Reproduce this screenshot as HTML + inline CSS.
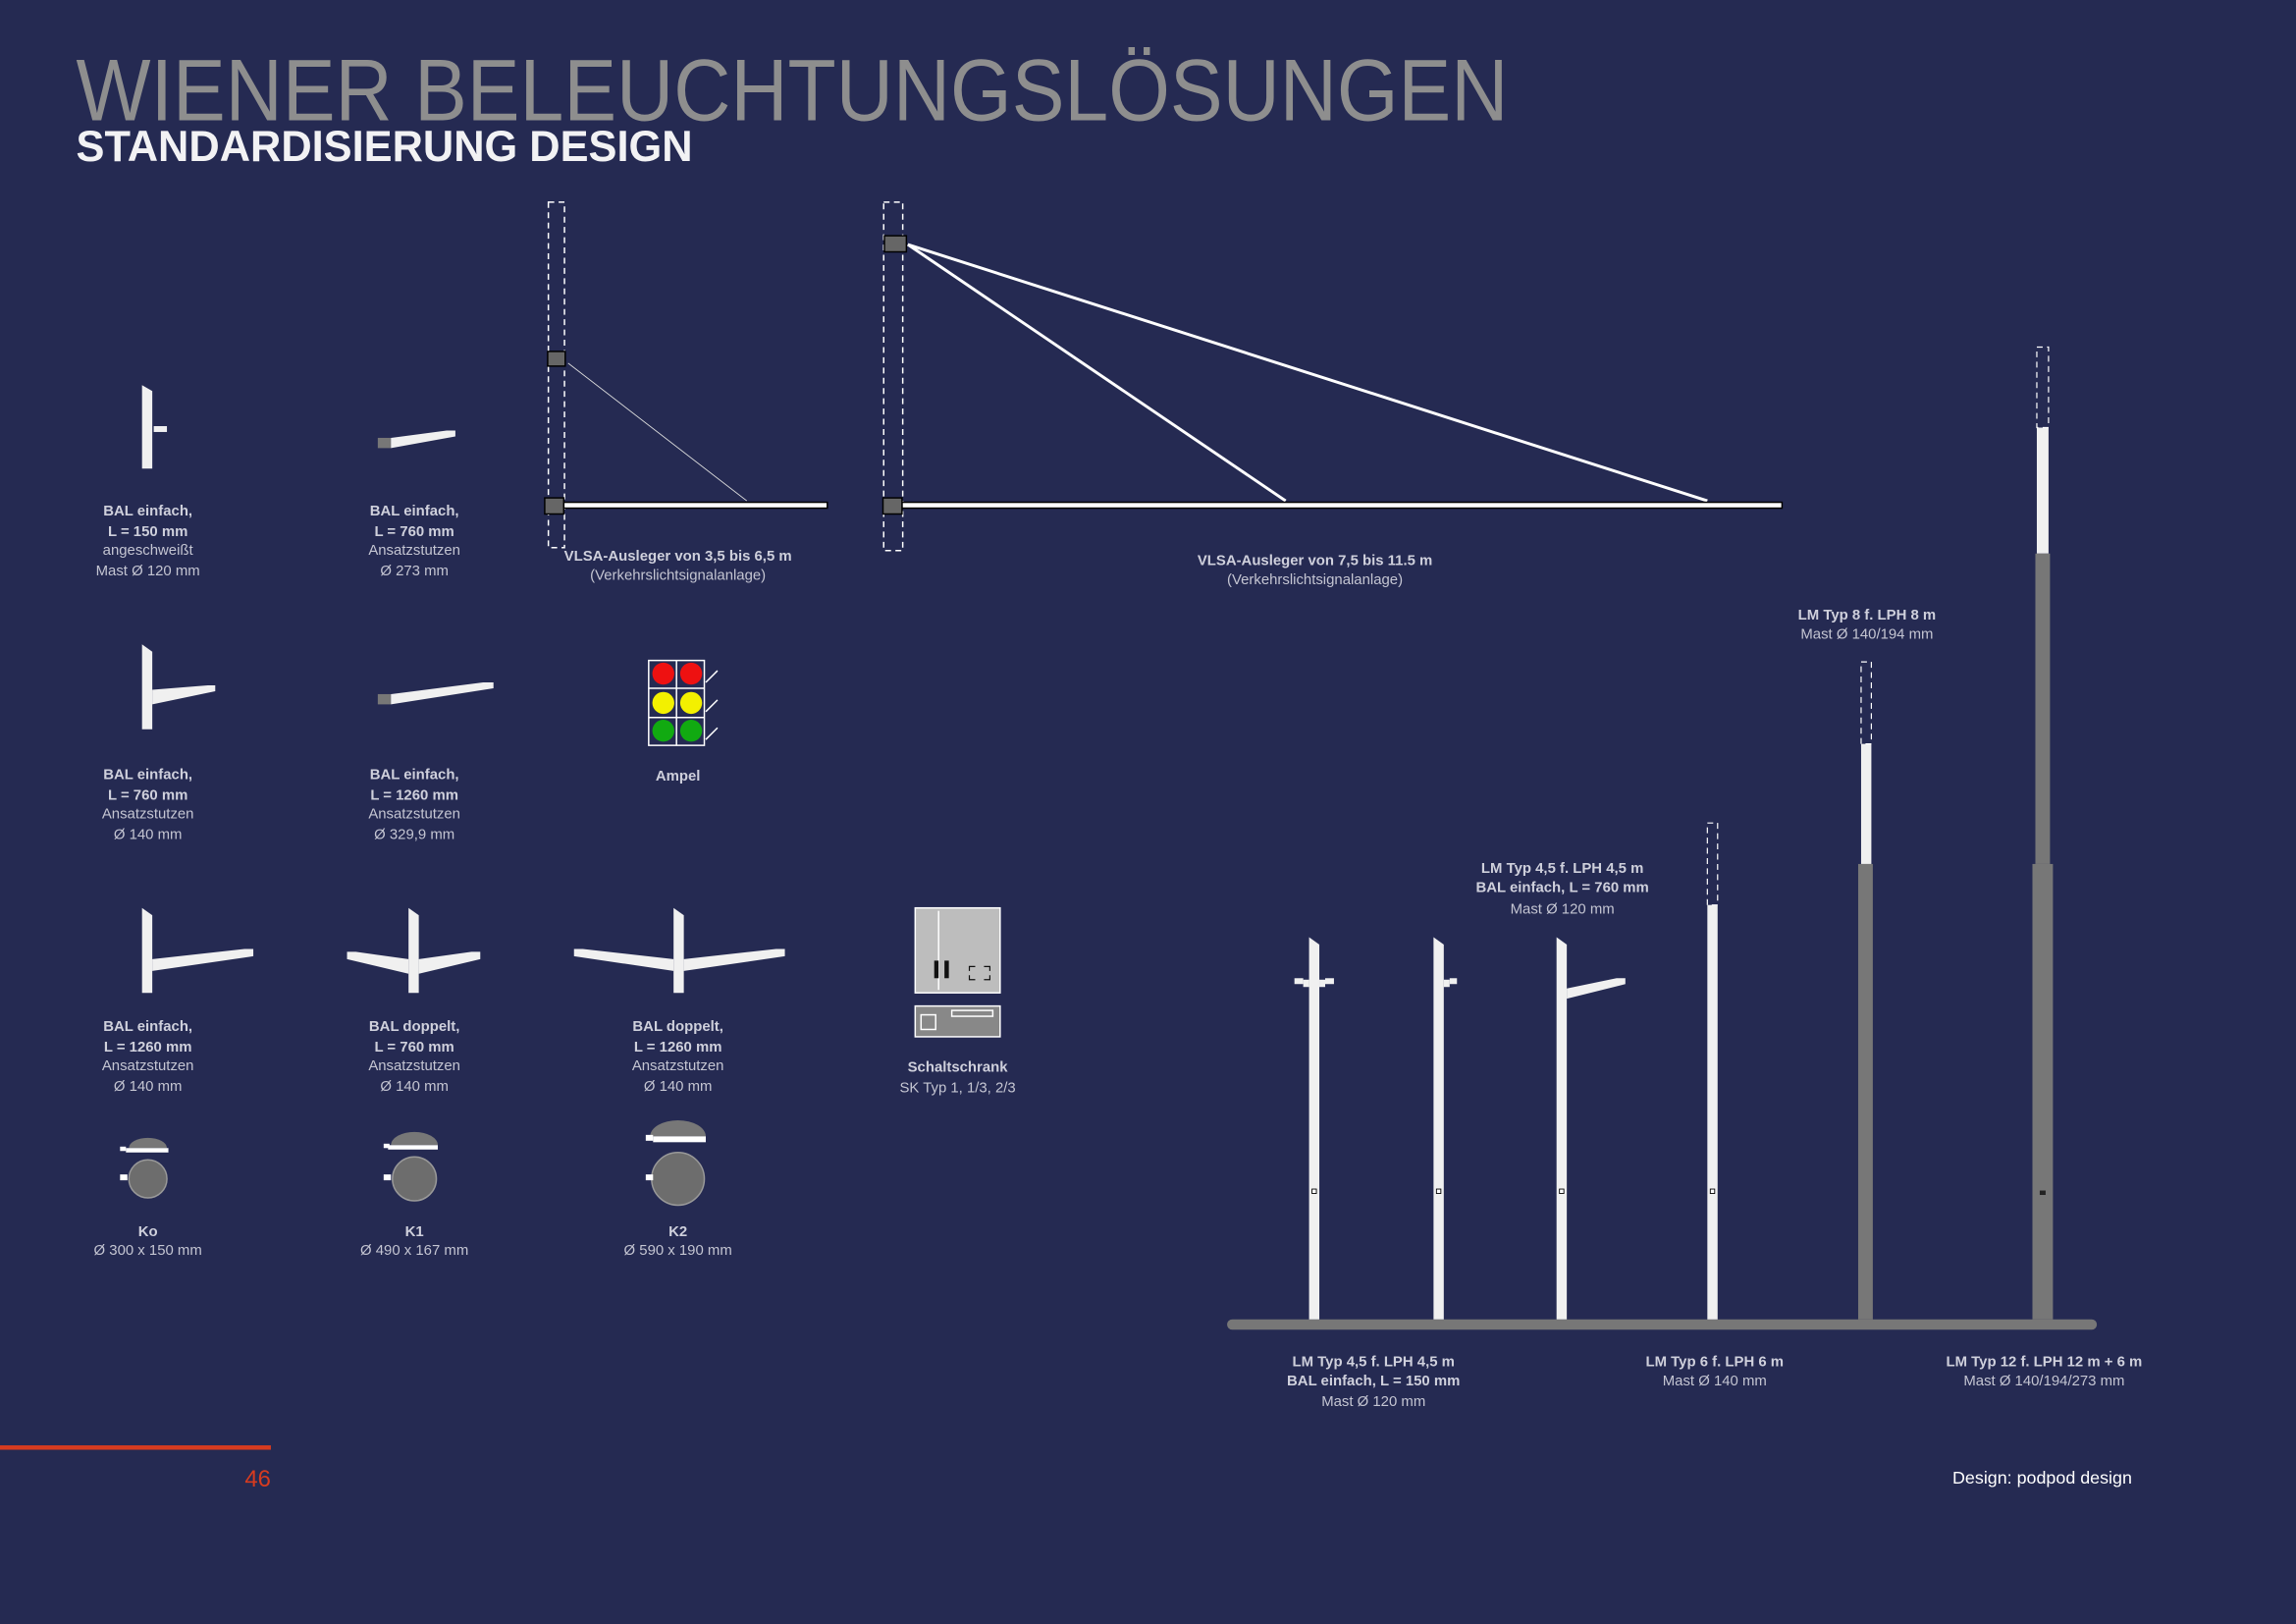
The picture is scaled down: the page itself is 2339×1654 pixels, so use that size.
<!DOCTYPE html>
<html><head><meta charset="utf-8"><style>
html,body{margin:0;padding:0;background:#252a52;}
svg{display:block;}
text{font-family:"Liberation Sans",sans-serif;}
.b{font-weight:bold;fill:#cfd0dc;font-size:10px;}
.r{fill:#c4c5d2;font-size:10px;}
</style></head><body>
<svg width="2339" height="1654" viewBox="0 0 1568 1109" preserveAspectRatio="none" xmlns="http://www.w3.org/2000/svg">
<rect width="1568" height="1109" fill="#252a52"/>
<text x="52" y="82" font-size="60" fill="#8e8e8e" textLength="978" lengthAdjust="spacingAndGlyphs">WIENER BELEUCHTUNGSLÖSUNGEN</text>
<text x="52" y="110" font-size="30" font-weight="bold" fill="#f2f2f4" textLength="421" lengthAdjust="spacingAndGlyphs">STANDARDISIERUNG DESIGN</text>

<g fill="#f0f0f0">
<!-- row1 -->
<polygon points="97,263 104,267 104,320 97,320"/>
<rect x="105" y="291" width="9" height="4"/>
<rect x="258" y="299" width="9" height="7" fill="#777"/>
<polygon points="267,299 305,294 311,294 311,298 267,306"/>
<!-- row2 -->
<polygon points="97,440 104,445 104,498 97,498"/>
<polygon points="104,471 142,468 147,468 147,472 104,481"/>
<rect x="258" y="474" width="9" height="7" fill="#777"/>
<polygon points="267,474 330,466 337,466 337,470 267,481"/>
<!-- row3 -->
<polygon points="97,620 104,625 104,678 97,678"/>
<polygon points="104,655 167,648 173,648 173,653 104,663"/>
<polygon points="279,620 286,625 286,678 279,678"/>
<polygon points="286,655 322,650 328,650 328,655 286,665"/>
<polygon points="279,655 243,650 237,650 237,655 279,665"/>
<polygon points="460,620 467,625 467,678 460,678"/>
<polygon points="467,655 530,648 536,648 536,653 467,663"/>
<polygon points="460,655 398,648 392,648 392,653 460,663"/>
</g>

<!-- VLSA small -->
<rect x="374.5" y="138" width="11" height="236" fill="none" stroke="#fff" stroke-width="1" stroke-dasharray="4,3"/>
<rect x="374" y="240" width="12" height="10" fill="#666" stroke="#000"/>
<line x1="388" y1="248" x2="510" y2="342" stroke="#ddd" stroke-width="0.6"/>
<rect x="385" y="343" width="180" height="4" fill="#fff" stroke="#000" stroke-width="1"/>
<rect x="372" y="340" width="13" height="11" fill="#666" stroke="#000"/>
<text x="463" y="383" text-anchor="middle" class="b">VLSA-Ausleger von 3,5 bis 6,5 m</text>
<text x="463" y="396" text-anchor="middle" class="r">(Verkehrslichtsignalanlage)</text>

<!-- VLSA large -->
<rect x="603.5" y="138" width="13" height="238" fill="none" stroke="#fff" stroke-width="1" stroke-dasharray="4,3"/>
<rect x="604" y="161" width="15" height="11" fill="#666" stroke="#000"/>
<line x1="620" y1="167" x2="878" y2="342" stroke="#fff" stroke-width="2"/>
<line x1="620" y1="167" x2="1166" y2="342" stroke="#fff" stroke-width="2"/>
<rect x="616" y="343" width="601" height="4" fill="#fff" stroke="#000" stroke-width="1"/>
<rect x="603" y="340" width="13" height="11" fill="#666" stroke="#000"/>
<text x="898" y="386" text-anchor="middle" class="b">VLSA-Ausleger von 7,5 bis 11.5 m</text>
<text x="898" y="399" text-anchor="middle" class="r">(Verkehrslichtsignalanlage)</text>

<!-- labels left -->
<g text-anchor="middle">
<text x="101" y="352" class="b">BAL einfach,</text><text x="101" y="366" class="b">L = 150 mm</text><text x="101" y="379" class="r">angeschweißt</text><text x="101" y="393" class="r">Mast Ø 120 mm</text>
<text x="283" y="352" class="b">BAL einfach,</text><text x="283" y="366" class="b">L = 760 mm</text><text x="283" y="379" class="r">Ansatzstutzen</text><text x="283" y="393" class="r">Ø 273 mm</text>
<text x="101" y="532" class="b">BAL einfach,</text><text x="101" y="546" class="b">L = 760 mm</text><text x="101" y="559" class="r">Ansatzstutzen</text><text x="101" y="573" class="r">Ø 140 mm</text>
<text x="283" y="532" class="b">BAL einfach,</text><text x="283" y="546" class="b">L = 1260 mm</text><text x="283" y="559" class="r">Ansatzstutzen</text><text x="283" y="573" class="r">Ø 329,9 mm</text>
<text x="463" y="533" class="b">Ampel</text>
<text x="101" y="704" class="b">BAL einfach,</text><text x="101" y="718" class="b">L = 1260 mm</text><text x="101" y="731" class="r">Ansatzstutzen</text><text x="101" y="745" class="r">Ø 140 mm</text>
<text x="283" y="704" class="b">BAL doppelt,</text><text x="283" y="718" class="b">L = 760 mm</text><text x="283" y="731" class="r">Ansatzstutzen</text><text x="283" y="745" class="r">Ø 140 mm</text>
<text x="463" y="704" class="b">BAL doppelt,</text><text x="463" y="718" class="b">L = 1260 mm</text><text x="463" y="731" class="r">Ansatzstutzen</text><text x="463" y="745" class="r">Ø 140 mm</text>
<text x="654" y="732" class="b">Schaltschrank</text><text x="654" y="746" class="r">SK Typ 1, 1/3, 2/3</text>
<text x="101" y="844" class="b">Ko</text><text x="101" y="857" class="r">Ø 300 x 150 mm</text>
<text x="283" y="844" class="b">K1</text><text x="283" y="857" class="r">Ø 490 x 167 mm</text>
<text x="463" y="844" class="b">K2</text><text x="463" y="857" class="r">Ø 590 x 190 mm</text>
</g>

<!-- Ampel -->
<g stroke="#fff" stroke-width="1">
<rect x="443" y="451" width="38" height="58" fill="none"/>
<line x1="462" y1="451" x2="462" y2="509"/><line x1="443" y1="470" x2="481" y2="470"/><line x1="443" y1="490" x2="481" y2="490"/>
</g>
<circle cx="453" cy="460" r="7.5" fill="#ee1111"/><circle cx="472" cy="460" r="7.5" fill="#ee1111"/>
<circle cx="453" cy="480" r="7.5" fill="#f3f000"/><circle cx="472" cy="480" r="7.5" fill="#f3f000"/>
<circle cx="453" cy="499" r="7.5" fill="#11aa11"/><circle cx="472" cy="499" r="7.5" fill="#11aa11"/>
<g stroke="#fff" stroke-width="1" fill="none"><path d="M482,466 L490,458"/><path d="M482,486 L490,478"/><path d="M482,505 L490,497"/></g>

<!-- Schaltschrank -->
<rect x="625" y="620" width="58" height="58" fill="#bdbdbd" stroke="#fff" stroke-width="1"/>
<line x1="641" y1="622" x2="641" y2="676" stroke="#fff"/>
<rect x="638" y="656" width="3" height="12" fill="#111"/><rect x="645" y="656" width="3" height="12" fill="#111"/>
<rect x="625" y="687" width="58" height="21" fill="#888" stroke="#fff"/>
<rect x="629" y="693" width="10" height="10" fill="none" stroke="#fff"/>
<rect x="650" y="690" width="28" height="4" fill="none" stroke="#fff"/>
<g stroke="#111" fill="none" stroke-width="0.8"><path d="M662,663v-3h4M672,660h4v3M662,666v3h4M672,669h4v-3"/></g>

<!-- luminaires -->
<g>
<path d="M88,784 A13,7 0 0 1 114,784 Z" fill="#777"/><rect x="86" y="784" width="29" height="3" fill="#fff"/><rect x="82" y="783" width="4" height="3" fill="#fff"/>
<circle cx="101" cy="805" r="13" fill="#6d6d6d" stroke="#999" stroke-width="1"/><rect x="82" y="802" width="5" height="4" fill="#fff"/>
<path d="M267,782 A16,9 0 0 1 299,782 Z" fill="#777"/><rect x="265" y="782" width="34" height="3" fill="#fff"/><rect x="262" y="781" width="4" height="3" fill="#fff"/>
<circle cx="283" cy="805" r="15" fill="#6d6d6d" stroke="#999" stroke-width="1"/><rect x="262" y="802" width="5" height="4" fill="#fff"/>
<path d="M444,776 A19,11 0 0 1 482,776 Z" fill="#777"/><rect x="446" y="776" width="36" height="4" fill="#fff"/><rect x="441" y="775" width="5" height="4" fill="#fff"/>
<circle cx="463" cy="805" r="18" fill="#6d6d6d" stroke="#999" stroke-width="1"/><rect x="441" y="802" width="5" height="4" fill="#fff"/>
</g>

<!-- footer -->
<rect x="0" y="987" width="185" height="3" fill="#d63b1f"/>
<text x="185" y="1015" text-anchor="end" font-size="16" fill="#d63b1f">46</text>
<text x="1456" y="1013" text-anchor="end" font-size="12" fill="#fff">Design: podpod design</text>

<!-- right poles -->
<rect x="838" y="901" width="594" height="7" rx="3.5" fill="#777"/>
<g fill="#f0f0f0">
<polygon points="894,640 901,645 901,901 894,901"/>
<polygon points="979,640 986,645 986,901 979,901"/>
<polygon points="1063,640 1070,645 1070,901 1063,901"/>
<rect x="1166" y="618" width="7" height="283"/>
<rect x="1271" y="508" width="7" height="82"/>
<rect x="1391" y="292" width="8" height="86"/>
<rect x="884" y="668" width="6" height="4"/><rect x="905" y="668" width="6" height="4"/><rect x="890" y="669" width="4" height="5"/><rect x="901" y="669" width="4" height="5"/>
<rect x="986" y="669" width="4" height="5"/><rect x="990" y="668" width="5" height="4"/>
<polygon points="1070,675 1104,668 1110,668 1110,672 1070,682"/>
</g>
<rect x="1269" y="590" width="10" height="311" fill="#777"/>
<rect x="1390" y="378" width="10" height="212" fill="#777"/>
<rect x="1388" y="590" width="14" height="311" fill="#777"/>
<g fill="none" stroke="#fff" stroke-width="0.8" stroke-dasharray="4,3">
<rect x="1166" y="562" width="7" height="56"/>
<rect x="1271" y="452" width="7" height="56"/>
<rect x="1391" y="237" width="8" height="55"/>
</g>
<g fill="#fff" stroke="#000" stroke-width="0.6">
<rect x="896" y="812" width="3" height="3"/><rect x="981" y="812" width="3" height="3"/><rect x="1065" y="812" width="3" height="3"/><rect x="1168" y="812" width="3" height="3"/>
</g>
<rect x="1393" y="813" width="4" height="3" fill="#222"/>
<g text-anchor="middle">
<text x="1067" y="596" class="b">LM Typ 4,5 f. LPH 4,5 m</text><text x="1067" y="609" class="b">BAL einfach, L = 760 mm</text><text x="1067" y="624" class="r">Mast Ø 120 mm</text>
<text x="1275" y="423" class="b">LM Typ 8 f. LPH 8 m</text><text x="1275" y="436" class="r">Mast Ø 140/194 mm</text>
<text x="938" y="933" class="b">LM Typ 4,5 f. LPH 4,5 m</text><text x="938" y="946" class="b">BAL einfach, L = 150 mm</text><text x="938" y="960" class="r">Mast Ø 120 mm</text>
<text x="1171" y="933" class="b">LM Typ 6 f. LPH 6 m</text><text x="1171" y="946" class="r">Mast Ø 140 mm</text>
<text x="1396" y="933" class="b">LM Typ 12 f. LPH 12 m + 6 m</text><text x="1396" y="946" class="r">Mast Ø 140/194/273 mm</text>
</g>
</svg>
</body></html>
